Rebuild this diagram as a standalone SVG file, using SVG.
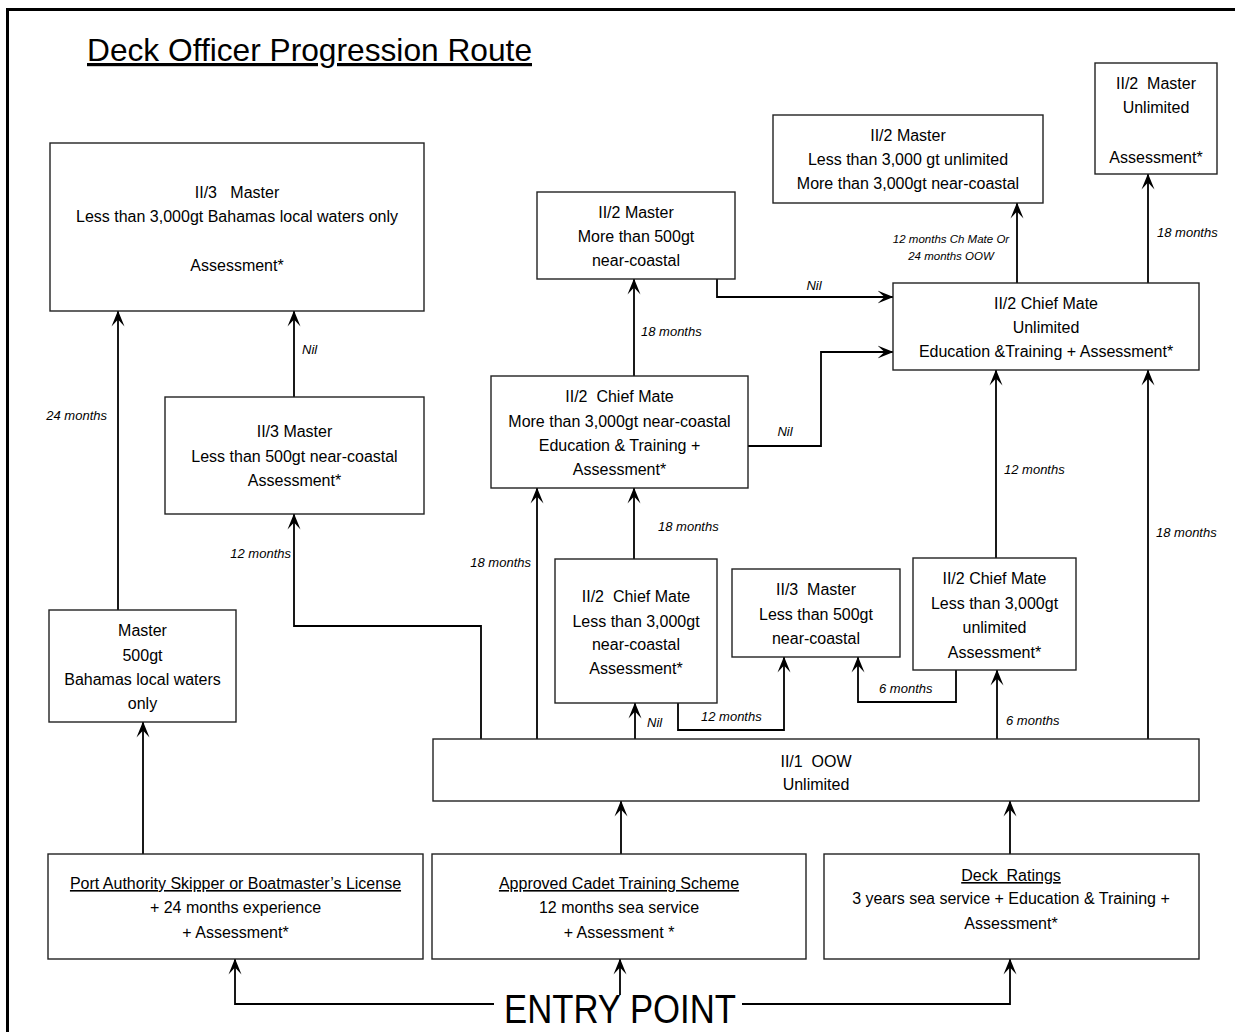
<svg xmlns="http://www.w3.org/2000/svg" width="1235" height="1032" viewBox="0 0 1235 1032">
<style>
.box{fill:#fff;stroke:#222;stroke-width:1.4}
.t{font-family:"Liberation Sans",Arial,sans-serif;font-size:16px;fill:#000;text-anchor:middle;white-space:pre}
.u{text-decoration:underline}
.c{fill:none;stroke:#000;stroke-width:1.8}
.l{font-family:"Liberation Sans",Arial,sans-serif;font-size:13px;font-style:italic;fill:#000}
.ls{font-size:11.5px}
.e{text-anchor:end}
.m{text-anchor:middle}
</style>
<defs>
<marker id="ah" markerUnits="userSpaceOnUse" markerWidth="16" markerHeight="14" viewBox="0 0 16 14" refX="15.5" refY="7" orient="auto">
<path d="M0,0.5 L16,7 L0,13.5 L7,7 Z" fill="#000"/>
</marker>
</defs>
<rect width="1235" height="1032" fill="#fff"/>
<path d="M7.5,1032 V9.5 H1235" fill="none" stroke="#000" stroke-width="3"/>
<text x="87" y="61" font-family="'Liberation Sans',Arial,sans-serif" font-size="32" text-decoration="underline" textLength="445" lengthAdjust="spacingAndGlyphs">Deck Officer Progression Route</text>

<g id="connectors">
<path class="c" d="M118,610 V311" marker-end="url(#ah)"/>
<path class="c" d="M294,397 V311" marker-end="url(#ah)"/>
<path class="c" d="M481,739 V626 H294 V514" marker-end="url(#ah)"/>
<path class="c" d="M537,739 V488" marker-end="url(#ah)"/>
<path class="c" d="M634,559 V488" marker-end="url(#ah)"/>
<path class="c" d="M634,376 V279" marker-end="url(#ah)"/>
<path class="c" d="M717,279 V297 H893" marker-end="url(#ah)"/>
<path class="c" d="M748,446 H821 V352 H893" marker-end="url(#ah)"/>
<path class="c" d="M1017,283 V203" marker-end="url(#ah)"/>
<path class="c" d="M1148,283 V174" marker-end="url(#ah)"/>
<path class="c" d="M996,558 V370" marker-end="url(#ah)"/>
<path class="c" d="M1148,739 V370" marker-end="url(#ah)"/>
<path class="c" d="M997,739 V670" marker-end="url(#ah)"/>
<path class="c" d="M956,670 V702 H858 V657" marker-end="url(#ah)"/>
<path class="c" d="M678,703 V730 H784 V657" marker-end="url(#ah)"/>
<path class="c" d="M635,739 V703" marker-end="url(#ah)"/>
<path class="c" d="M621,854 V801" marker-end="url(#ah)"/>
<path class="c" d="M1010,854 V801" marker-end="url(#ah)"/>
<path class="c" d="M143,854 V722" marker-end="url(#ah)"/>
<path class="c" d="M494,1004 H235 V959" marker-end="url(#ah)"/>
<path class="c" d="M742,1004 H1010 V959" marker-end="url(#ah)"/>
<path class="c" d="M620,995 V959" marker-end="url(#ah)"/>
<text class="l e" x="107" y="420">24 months</text>
<text class="l" x="302" y="354">Nil</text>
<text class="l e" x="291" y="558">12 months</text>
<text class="l e" x="531" y="567">18 months</text>
<text class="l" x="658" y="531">18 months</text>
<text class="l" x="641" y="336">18 months</text>
<text class="l m" x="814" y="290">Nil</text>
<text class="l m" x="785" y="436">Nil</text>
<text class="l ls m" x="951" y="243">12 months Ch Mate Or</text>
<text class="l ls m" x="951" y="260">24 months OOW</text>
<text class="l" x="1157" y="237">18 months</text>
<text class="l" x="1004" y="474">12 months</text>
<text class="l" x="1156" y="537">18 months</text>
<text class="l" x="1006" y="725">6 months</text>
<text class="l" x="879" y="693">6 months</text>
<text class="l" x="701" y="721">12 months</text>
<text class="l" x="647" y="727">Nil</text>
</g>

<g id="n-ii3-master-3000">
<rect class="box" x="50" y="143" width="374" height="168"/>
<text class="t" x="237" y="198">II/3   Master</text>
<text class="t" x="237" y="222">Less than 3,000gt Bahamas local waters only</text>
<text class="t" x="237" y="271">Assessment*</text>
</g>
<g id="n-ii3-master-500">
<rect class="box" x="165" y="397" width="259" height="117"/>
<text class="t" x="294.5" y="437">II/3 Master</text>
<text class="t" x="294.5" y="462">Less than 500gt near-coastal</text>
<text class="t" x="294.5" y="486">Assessment*</text>
</g>
<g id="n-master-500">
<rect class="box" x="49" y="610" width="187" height="112"/>
<text class="t" x="142.5" y="636">Master</text>
<text class="t" x="142.5" y="661">500gt</text>
<text class="t" x="142.5" y="685">Bahamas local waters</text>
<text class="t" x="142.5" y="709">only</text>
</g>
<g id="n-ii2-master-500">
<rect class="box" x="537" y="192" width="198" height="87"/>
<text class="t" x="636" y="218">II/2 Master</text>
<text class="t" x="636" y="242">More than 500gt</text>
<text class="t" x="636" y="266">near-coastal</text>
</g>
<g id="n-ii2-cm-3000nc">
<rect class="box" x="491" y="376" width="257" height="112"/>
<text class="t" x="619.5" y="402">II/2  Chief Mate</text>
<text class="t" x="619.5" y="427">More than 3,000gt near-coastal</text>
<text class="t" x="619.5" y="451">Education &amp; Training +</text>
<text class="t" x="619.5" y="475">Assessment*</text>
</g>
<g id="n-ii2-master-3000">
<rect class="box" x="773" y="115" width="270" height="88"/>
<text class="t" x="908" y="141">II/2 Master</text>
<text class="t" x="908" y="165">Less than 3,000 gt unlimited</text>
<text class="t" x="908" y="189">More than 3,000gt near-coastal</text>
</g>
<g id="n-ii2-master-unl">
<rect class="box" x="1095" y="63" width="122" height="111"/>
<text class="t" x="1156" y="89">II/2  Master</text>
<text class="t" x="1156" y="113">Unlimited</text>
<text class="t" x="1156" y="163">Assessment*</text>
</g>
<g id="n-ii2-cm-unl">
<rect class="box" x="893" y="283" width="306" height="87"/>
<text class="t" x="1046" y="309">II/2 Chief Mate</text>
<text class="t" x="1046" y="333">Unlimited</text>
<text class="t" x="1046" y="357">Education &amp;Training + Assessment*</text>
</g>
<g id="n-ii2-cm-3000lt-nc">
<rect class="box" x="555" y="559" width="162" height="144"/>
<text class="t" x="636" y="602">II/2  Chief Mate</text>
<text class="t" x="636" y="627">Less than 3,000gt</text>
<text class="t" x="636" y="650">near-coastal</text>
<text class="t" x="636" y="674">Assessment*</text>
</g>
<g id="n-ii3-master-500nc">
<rect class="box" x="732" y="569" width="168" height="88"/>
<text class="t" x="816" y="595">II/3  Master</text>
<text class="t" x="816" y="620">Less than 500gt</text>
<text class="t" x="816" y="644">near-coastal</text>
</g>
<g id="n-ii2-cm-3000lt-unl">
<rect class="box" x="913" y="558" width="163" height="112"/>
<text class="t" x="994.5" y="584">II/2 Chief Mate</text>
<text class="t" x="994.5" y="609">Less than 3,000gt</text>
<text class="t" x="994.5" y="633">unlimited</text>
<text class="t" x="994.5" y="658">Assessment*</text>
</g>
<g id="n-oow">
<rect class="box" x="433" y="739" width="766" height="62"/>
<text class="t" x="816" y="767">II/1  OOW</text>
<text class="t" x="816" y="790">Unlimited</text>
</g>
<g id="n-port">
<rect class="box" x="48" y="854" width="375" height="105"/>
<text class="t u" x="235.5" y="889">Port Authority Skipper or Boatmaster’s License</text>
<text class="t" x="235.5" y="913">+ 24 months experience</text>
<text class="t" x="235.5" y="938">+ Assessment*</text>
</g>
<g id="n-cadet">
<rect class="box" x="432" y="854" width="374" height="105"/>
<text class="t u" x="619" y="889">Approved Cadet Training Scheme</text>
<text class="t" x="619" y="913">12 months sea service</text>
<text class="t" x="619" y="938">+ Assessment *</text>
</g>
<g id="n-deck">
<rect class="box" x="824" y="854" width="375" height="105"/>
<text class="t u" x="1011" y="881">Deck  Ratings</text>
<text class="t" x="1011" y="904">3 years sea service + Education &amp; Training +</text>
<text class="t" x="1011" y="929">Assessment*</text>
</g>
<g id="n-entry">
<text x="504" y="1022.5" font-family="'Liberation Sans',Arial,sans-serif" font-size="41" textLength="232" lengthAdjust="spacingAndGlyphs">ENTRY POINT</text>
</g>
</svg>
